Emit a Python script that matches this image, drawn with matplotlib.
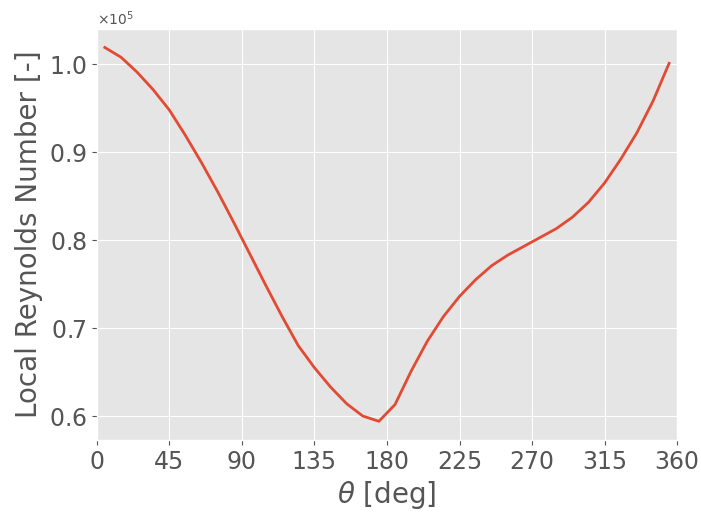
import numpy as np
import matplotlib
matplotlib.use('Agg')
import matplotlib.pyplot as plt

plt.style.use('ggplot')

# angle [deg] and local Reynolds number
theta = [5, 15, 25, 35, 45, 55, 65, 75, 85, 95, 105, 115, 125, 135, 145, 155, 165, 175,
         185, 195, 205, 215, 225, 235, 245, 255, 265, 275, 285, 295, 305, 315, 325, 335, 345, 355]
re_local = [1.019, 1.008, 0.991, 0.971, 0.948, 0.919, 0.888, 0.855, 0.820, 0.784, 0.748, 0.713,
            0.680, 0.655, 0.633, 0.614, 0.600, 0.594, 0.613, 0.651, 0.685, 0.713, 0.736, 0.755,
            0.771, 0.783, 0.793, 0.803, 0.813, 0.826, 0.843, 0.865, 0.892, 0.922, 0.958, 1.001]
re_local = np.array(re_local) * 1e5

fig, ax = plt.subplots(figsize=(7.01, 5.14), dpi=100)
ax.plot(theta, re_local, lw=2)
ax.set_xlim(0, 360)
ax.set_xticks(np.arange(0, 361, 45))
ax.set_xlabel(r'$\theta$ [deg]', fontsize=20)
ax.set_ylabel('Local Reynolds Number [-]', fontsize=20)
ax.tick_params(labelsize=17)
ax.ticklabel_format(axis='y', style='sci', scilimits=(0, 0), useMathText=True)
plt.subplots_adjust(left=0.138, right=0.966, top=0.944, bottom=0.144)
plt.savefig('out.png')
